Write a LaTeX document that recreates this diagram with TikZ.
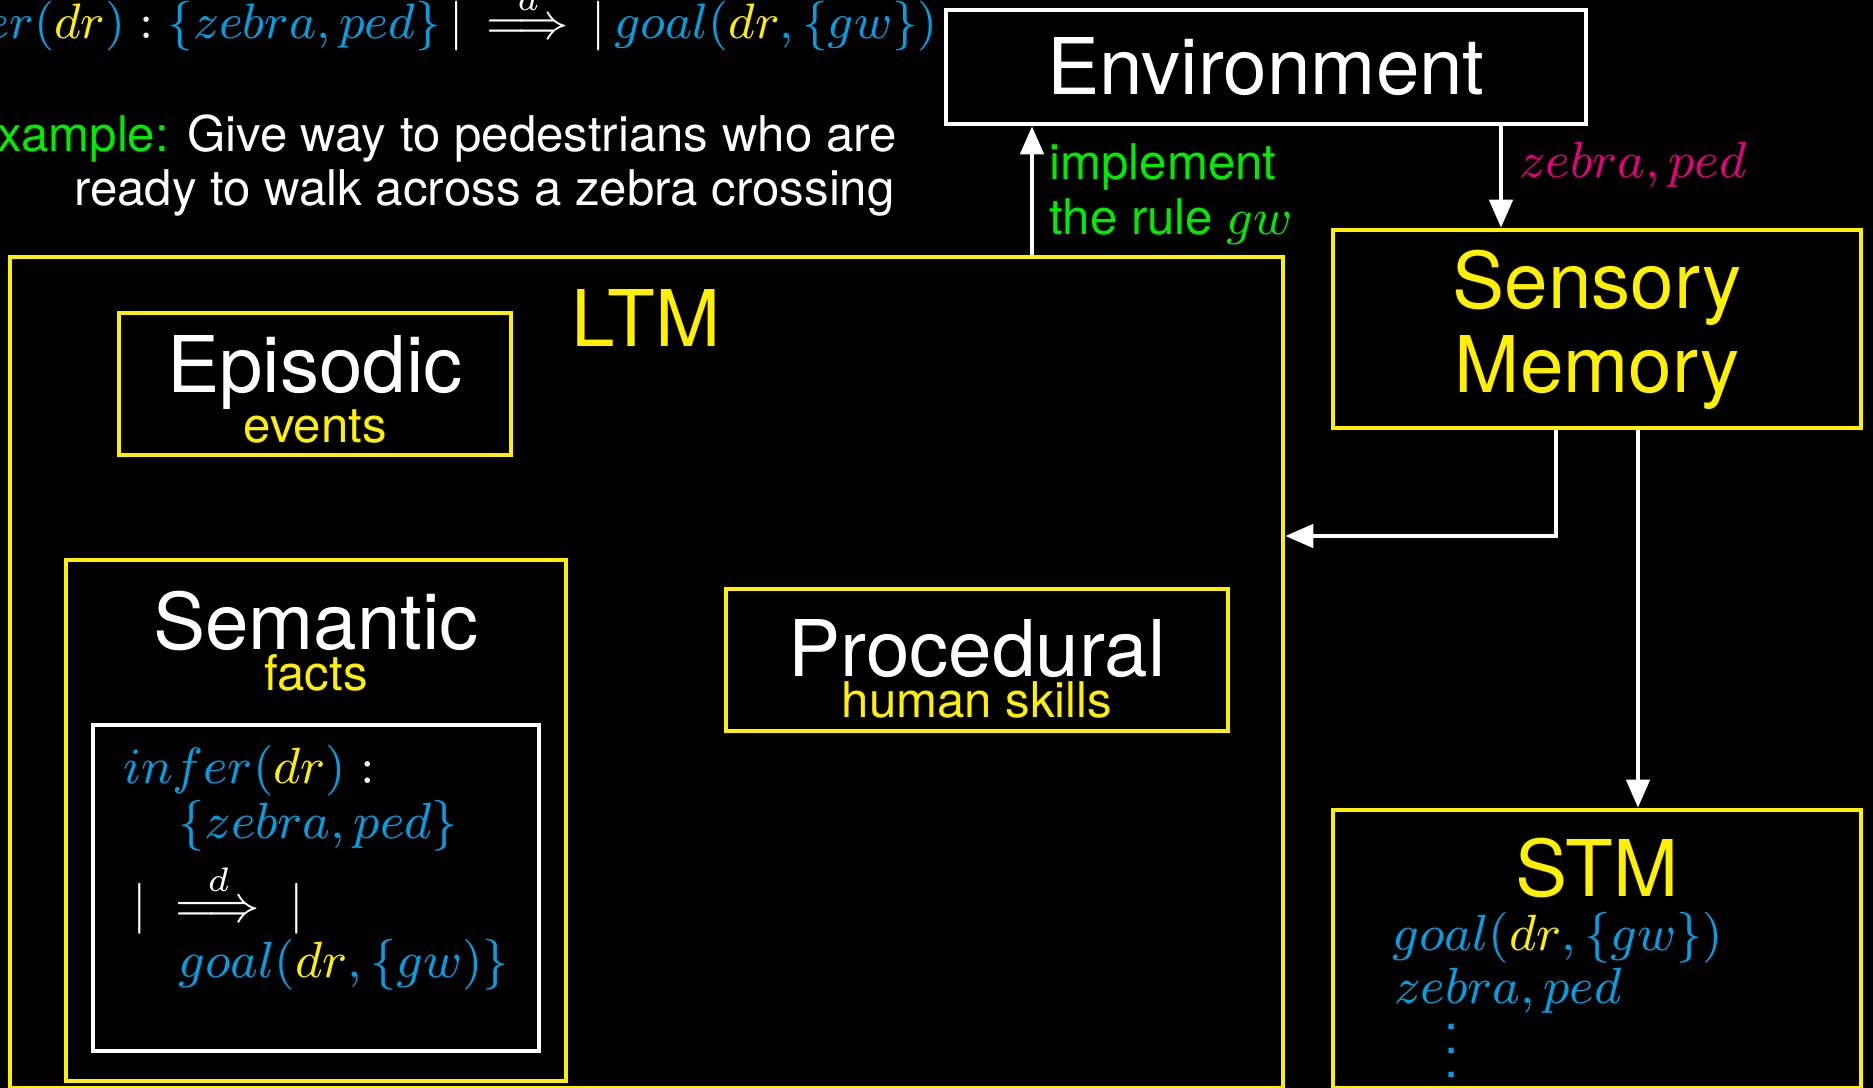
\RequirePackage{fix-cm}
\documentclass[tikz,border=0pt]{standalone}
\usepackage[no-math]{fontspec}
\setmainfont{TeX Gyre Heros}
\usepackage{amsmath}
\usepackage{graphicx}
\usetikzlibrary{arrows.meta}

\definecolor{ltyellow}{RGB}{255,240,0}
\definecolor{factcyan}{RGB}{0,160,227}
\definecolor{rulegreen}{RGB}{0,235,0}
\definecolor{percmagenta}{RGB}{230,0,126}

\newdimen\pxu
\pxu=0.02cm

% coloured pieces of the rule formulas
\newcommand{\cy}[1]{{\color{factcyan}#1}}
\newcommand{\yl}[1]{{\color{ltyellow}#1}}
% formulas are set small and enlarged, so they keep the heavier small-size glyphs
\newcommand{\bigmath}[1]{\scalebox{3.222}{\fontsize{9}{11}\selectfont$#1$}}
\newcommand{\headmath}[1]{\scalebox{3.15}{\fontsize{9}{11}\selectfont$#1$}}
\newcommand{\bigvdots}{\scalebox{3.41}{\fontsize{8.5}{10}\selectfont$\vdots$}}

\tikzset{
  ybox/.style={draw=ltyellow, line width=2.6pt, rectangle, inner sep=0pt},
  wbox/.style={draw=white, line width=2.6pt, rectangle, inner sep=0pt},
  headtext/.style={text=white, font=\fontsize{44.5}{48}\selectfont, inner sep=0pt, anchor=base},
  subtext/.style={text=ltyellow, font=\fontsize{28}{31}\selectfont, inner sep=0pt, anchor=base},
  plaintext/.style={text=white, font=\fontsize{28}{31}\selectfont, inner sep=0pt},
  mathtext/.style={text=white, inner sep=0pt},
  flowarrow/.style={draw=white, line width=2.6pt, -{Triangle[length=0.56cm,width=0.46cm]}},
}

\begin{document}
\begin{tikzpicture}[x=0.02cm, y=-0.02cm]
  \useasboundingbox (0,0) rectangle (1873,1088);
  \fill[black] (0,0) rectangle (1873,1088);

  % rule stated at the top
  \node[mathtext, anchor=base east] (toprule) at (938,39)
    {\headmath{\cy{infer(}\yl{dr}\cy{)} : \cy{\{zebra,ped\}}\,|\,\stackrel{d}{\Longrightarrow}\,|\,\cy{goal(}\yl{dr}\cy{,\{gw\})}}};
  \node[plaintext, anchor=base east] (example1) at (897,152)
    {{\color{rulegreen}Example:} Give way to pedestrians who are};
  \node[plaintext, anchor=base east] (example2) at (895,205)
    {ready to walk across a zebra crossing};

  % environment
  \node[wbox, headtext, anchor=center, minimum width=640\pxu, minimum height=114\pxu] (env) at (1266,67) {Environment};

  % long-term memory and its parts
  \node[ybox, minimum width=1273\pxu, minimum height=831\pxu] (ltm) at (646.5,672.5) {};
  \node[headtext, text=ltyellow] (ltmlabel) at (646,346) {LTM};

  \node[ybox, minimum width=392\pxu, minimum height=142\pxu] (episodic) at (315,384) {};
  \node[headtext] (episodiclabel) at (315,392) {Episodic};
  \node[subtext] (events) at (315,442) {events};

  \node[ybox, minimum width=500\pxu, minimum height=521\pxu] (semantic) at (316,820.5) {};
  \node[headtext] (semanticlabel) at (316,649) {Semantic};
  \node[subtext] (facts) at (316,690) {facts};

  \node[wbox, minimum width=446\pxu, minimum height=326\pxu] (rulebox) at (316,888) {};
  \node[mathtext, anchor=base west] (rule1) at (123,783) {\bigmath{\cy{infer(}\yl{dr}\cy{)} :}};
  \node[mathtext, anchor=base west] (rule2) at (178,838) {\bigmath{\cy{\{zebra,ped\}}}};
  \node[mathtext, anchor=base west] (rule3) at (132,921) {\bigmath{|\;\stackrel{d}{\Longrightarrow}\;|}};
  \node[mathtext, anchor=base west] (rule4) at (178,977) {\bigmath{\cy{goal(}\yl{dr}\cy{,\{gw)\}}}};

  \node[ybox, minimum width=502\pxu, minimum height=142\pxu] (procedural) at (977,660) {};
  \node[headtext] (procedurallabel) at (977,676) {Procedural};
  \node[subtext] (skills) at (977,717) {human skills};

  % sensory memory
  \node[ybox, minimum width=528\pxu, minimum height=198\pxu] (sensory) at (1597,329) {};
  \node[headtext, text=ltyellow] (sensorylabel1) at (1597,308) {Sensory};
  \node[headtext, text=ltyellow] (sensorylabel2) at (1597,392) {Memory};

  % short-term memory
  \node[ybox, minimum width=528\pxu, minimum height=278\pxu] (stm) at (1597,949) {};
  \node[headtext, text=ltyellow] (stmlabel) at (1597,896) {STM};
  \node[mathtext, anchor=base west] (stm1) at (1392,950) {\bigmath{\cy{goal(}\yl{dr}\cy{,\{gw\})}}};
  \node[mathtext, anchor=base west] (stm2) at (1394,1003) {\bigmath{\cy{zebra,ped}}};
  \node[mathtext, text=factcyan, anchor=base] (stm3) at (1452,1077) {\bigvdots};

  % connectors
  \coordinate (upx) at (1032,0);
  \coordinate (downx) at (1501,0);
  \coordinate (bend) at (1556,536);
  \coordinate (stmx) at (1638,0);

  \draw[flowarrow] (ltm.north -| upx) -- (env.south -| upx);
  \draw[flowarrow] (env.south -| downx) -- (sensory.north -| downx);
  \draw[flowarrow] (sensory.south -| bend) -- (bend) -- (ltm.east |- bend);
  \draw[flowarrow] (sensory.south -| stmx) -- (stm.north -| stmx);

  % connector labels
  \node[plaintext, text=rulegreen, anchor=base west] (implement1) at (1049,179) {implement};
  \node[plaintext, text=rulegreen, anchor=base west] (implement2) at (1049,234) {the rule \bigmath{gw}};
  \node[mathtext, text=percmagenta, anchor=base west] (percept) at (1519,177) {\bigmath{zebra, ped}};
\end{tikzpicture}
\end{document}
